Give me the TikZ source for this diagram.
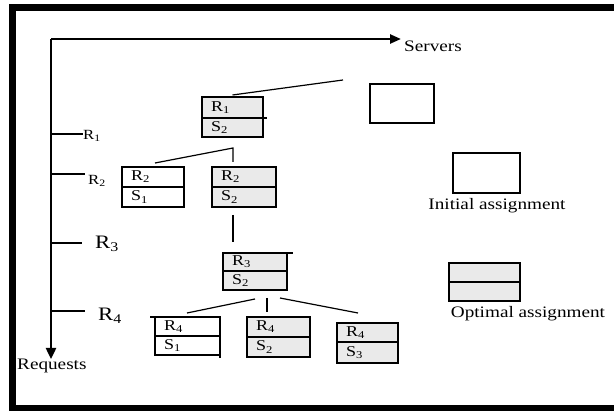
\documentclass[tikz,border=0pt]{standalone}
\usepackage{fontspec}
\setmainfont{Liberation Serif}
\newfontfamily\lab[FakeStretch=1.2]{Liberation Serif}
\usetikzlibrary{arrows.meta}
\definecolor{shade}{HTML}{EAEAEA}
\begin{document}
\begin{tikzpicture}[x=1pt,y=-1pt,
  half/.style={draw=black, line width=1.3pt, anchor=north west, inner xsep=9pt, inner ysep=0pt, outer sep=0pt,
    align=left, font=\lab\fontsize{15}{15}\selectfont},
  conn/.style={line width=1.2pt},
  axis/.style={line width=2.4pt},
  tick/.style={line width=1.2pt},
  small/.style={font=\lab\fontsize{14}{14}\selectfont, inner sep=0pt, anchor=west},
  big/.style={font=\lab\fontsize{19}{19}\selectfont, inner sep=0pt, anchor=west},
  legend/.style={font=\lab\fontsize{16}{16}\selectfont, inner sep=0pt}
]
\useasboundingbox (0,0) rectangle (614,411);
\fill[white] (0,0) rectangle (614,411);
% frame
\begin{scope}
\clip (0,0) rectangle (614,411);
\draw[line width=7pt] (12.5,8) rectangle (640,408.5);
\end{scope}
% axes
\coordinate (O) at (51,39);
\coordinate (SX) at (401,39);
\coordinate (RY) at (51,359);
\draw[axis,-{Triangle[length=11pt,width=9pt]}] (O) -- (SX);
\draw[axis,-{Triangle[length=11pt,width=10pt]}] (O) -- (RY);
\node[legend, anchor=west] (servers) at (404,46) {Servers};
\node[legend, anchor=west] (requests) at (17,366) {Requests};
% ticks
\coordinate (t1) at (51,134); \coordinate (t1e) at (83,134);
\coordinate (t2) at (51,174); \coordinate (t2e) at (85,174);
\coordinate (t3) at (51,243); \coordinate (t3e) at (82,243);
\coordinate (t4) at (51,311); \coordinate (t4e) at (85,311);
\draw[tick] (t1) -- (t1e); \draw[tick] (t2) -- (t2e);
\draw[tick] (t3) -- (t3e); \draw[tick] (t4) -- (t4e);
\node[small] (l1) at (83,136) {R\textsubscript{1}};
\node[small] (l2) at (88,181) {R\textsubscript{2}};
\node[big] (l3) at (95,244) {R\textsubscript{3}};
\node[big] (l4) at (98,316) {R\textsubscript{4}};
% boxes
% A
\node[half, fill=shade, minimum width=61pt, text width=43pt, minimum height=21pt] (A1) at (202,97) {R\textsubscript{1}};
\node[half, fill=shade, minimum width=61pt, text width=43pt, minimum height=19pt] (A2) at (A1.south west) {S\textsubscript{2}};
% B
\node[half, minimum width=62pt, text width=44pt, minimum height=20pt] (B1) at (122,167) {R\textsubscript{2}};
\node[half, minimum width=62pt, text width=44pt, minimum height=20pt] (B2) at (B1.south west) {S\textsubscript{1}};
% C
\node[half, fill=shade, minimum width=64pt, text width=46pt, minimum height=20pt] (C1) at (212,167) {R\textsubscript{2}};
\node[half, fill=shade, minimum width=64pt, text width=46pt, minimum height=20pt] (C2) at (C1.south west) {S\textsubscript{2}};
% D
\node[half, fill=shade, minimum width=64pt, text width=46pt, minimum height=18pt] (D1) at (223,253) {R\textsubscript{3}};
\node[half, fill=shade, minimum width=64pt, text width=46pt, minimum height=19pt] (D2) at (D1.south west) {S\textsubscript{2}};
% E
\node[half, minimum width=65pt, text width=47pt, minimum height=19pt] (E1) at (155,317) {R\textsubscript{4}};
\node[half, minimum width=65pt, text width=47pt, minimum height=19pt] (E2) at (E1.south west) {S\textsubscript{1}};
% F
\node[half, fill=shade, minimum width=63pt, text width=45pt, minimum height=20pt] (F1) at (247,317) {R\textsubscript{4}};
\node[half, fill=shade, minimum width=63pt, text width=45pt, minimum height=20pt] (F2) at (F1.south west) {S\textsubscript{2}};
% G
\node[half, fill=shade, minimum width=61pt, text width=43pt, minimum height=19pt] (G1) at (337,323) {R\textsubscript{4}};
\node[half, fill=shade, minimum width=61pt, text width=43pt, minimum height=21pt] (G2) at (G1.south west) {S\textsubscript{3}};
% sketchy overhangs
\draw[line width=1.3pt] (D1.north east) -- ++(6,0);
\draw[line width=1.3pt] (E1.north west) -- ++(-5,0);
\draw[line width=1.3pt] (E2.south east) -- ++(0,3);
\draw[line width=1.3pt] (A1.south east) -- ++(4,0);
% empty box (initial, root)
\node[draw, line width=1.3pt, anchor=north west, minimum width=64pt, minimum height=39pt, inner sep=0pt, outer sep=0pt] (P) at (370,84) {};
% legend
\node[draw, line width=1.3pt, anchor=north west, minimum width=67pt, minimum height=40pt, inner sep=0pt, outer sep=0pt] (LI) at (453,153) {};
\node[legend, anchor=north] (LIt) at (497,198) {Initial assignment};
\node[half, fill=shade, minimum width=71pt, text width=53pt, minimum height=19pt] (LO1) at (449,263) {};
\node[half, fill=shade, minimum width=71pt, text width=53pt, minimum height=19pt] (LO2) at (LO1.south west) {};
\node[legend, anchor=north] (LOt) at (528,306) {Optimal assignment};
% connectors
\coordinate (pA) at (343,80);
\draw[conn] ([yshift=2pt]A1.north) -- (pA);
\coordinate (jA) at (233,148);
\coordinate (jB) at (155,163);
\coordinate (jC) at (233,162);
\draw[conn] (jB) -- (jA) -- (jC);
\coordinate (jC2) at (233,215);
\coordinate (jD) at (233,242);
\draw[conn] (jC2) -- (jD);
\coordinate (dE0) at (255,299); \coordinate (dE) at (187,313);
\coordinate (dF0) at (267,298); \coordinate (dF) at (267,312);
\coordinate (dG0) at (280,298); \coordinate (dG) at (358,313);
\draw[conn] (dE0) -- (dE);
\draw[conn] (dF0) -- (dF);
\draw[conn] (dG0) -- (dG);
\end{tikzpicture}
\end{document}
